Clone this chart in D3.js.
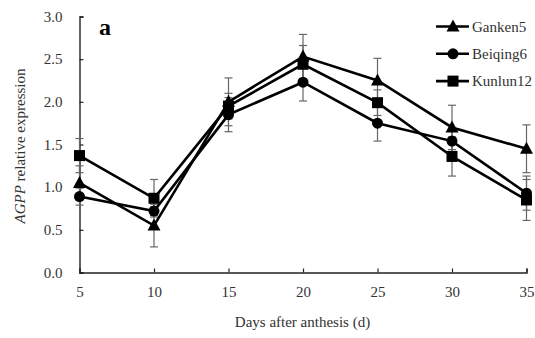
<!DOCTYPE html>
<html>
<head>
<meta charset="utf-8">
<script src="https://cdn.jsdelivr.net/npm/d3@7"></script>
<style>
  body { margin: 0; background: #fff; }
</style>
</head>
<body>
<div id="chart"></div>
<script>
var FONT = '"Liberation Serif", serif';

var days = [5, 10, 15, 20, 25, 30, 35];
var series_names = ['Ganken5', 'Beiqing6', 'Kunlun12'];
var series_shapes = ['triangle', 'circle', 'square'];

var ganken5 = [1.05, 0.55, 2.00, 2.53, 2.25, 1.70, 1.45];
var ganken5_err = [0.20, 0.25, 0.28, 0.26, 0.26, 0.26, 0.28];
var beiqing6 = [0.89, 0.72, 1.85, 2.23, 1.75, 1.54, 0.93];
var beiqing6_err = [0.10, 0.05, 0.20, 0.22, 0.21, 0.15, 0.20];
var kunlun12 = [1.37, 0.87, 1.95, 2.44, 1.99, 1.36, 0.85];
var kunlun12_err = [0.20, 0.22, 0.15, 0.22, 0.15, 0.23, 0.24];

var y_ticks = [0, 0.5, 1.0, 1.5, 2.0, 2.5, 3.0];

var values = [ganken5, beiqing6, kunlun12];
var errors = [ganken5_err, beiqing6_err, kunlun12_err];

var W = 535, H = 338;
var margin = { top: 16, left: 79, right: 9, bottom: 66 };
var width = W - margin.left - margin.right;
var height = H - margin.top - margin.bottom;

var sx = d3.scaleLinear().domain([5, 35]).range([0, width]);
var sy = d3.scaleLinear().domain([0, 3]).range([height, 0]);

var svg = d3.select('#chart').append('svg')
    .attr('width', W)
    .attr('height', H);

var g = svg.append('g')
    .attr('transform', 'translate(0.5,0.5) translate(' + margin.left + ',' + margin.top + ')');

// axes, ticks pointing inward
var ax = d3.axisBottom(sx).tickValues(days).tickSize(-4).tickPadding(14);
var ay = d3.axisLeft(sy).tickValues(y_ticks).tickSize(-4).tickPadding(17)
    .tickFormat(d3.format('.1f'));

var gx = g.append('g').attr('transform', 'translate(0,' + height + ')').call(ax);
var gy = g.append('g').call(ay);

[gx, gy].forEach(function(a) {
    a.attr('font-family', null).attr('font-size', null);
    a.select('.domain').attr('stroke', '#222').attr('stroke-width', 1.4);
    a.selectAll('.tick line').attr('stroke', '#222').attr('stroke-width', 1.2);
    a.selectAll('.tick text')
        .style('font-family', FONT)
        .style('font-size', '15px')
        .attr('fill', '#333');
});

// error bars
var cap = 4;
values.forEach(function(v, s) {
    var eg = g.append('g').attr('class', 'err');
    days.forEach(function(d, i) {
        var x = sx(d);
        var y0 = sy(v[i] - errors[s][i]);
        var y1 = sy(v[i] + errors[s][i]);
        eg.append('line').attr('x1', x).attr('x2', x).attr('y1', y0).attr('y2', y1);
        eg.append('line').attr('x1', x - cap).attr('x2', x + cap).attr('y1', y0).attr('y2', y0);
        eg.append('line').attr('x1', x - cap).attr('x2', x + cap).attr('y1', y1).attr('y2', y1);
    });
    eg.selectAll('line').attr('stroke', '#666').attr('stroke-width', 1.2);
});

function marker(sel, shape) {
    if (shape == 'triangle') {
        sel.append('path').attr('d', 'M0,-7L6.5,5L-6.5,5Z');
    } else if (shape == 'circle') {
        sel.append('circle').attr('r', 5.5);
    } else {
        sel.append('rect').attr('x', -5.5).attr('y', -5.5).attr('width', 11).attr('height', 11);
    }
    sel.selectAll('*').attr('fill', '#000');
}

var line = d3.line()
    .x(function(d, i) { return sx(days[i]); })
    .y(function(d) { return sy(d); });

values.forEach(function(v, s) {
    g.append('path')
        .datum(v)
        .attr('d', line)
        .attr('fill', 'none')
        .attr('stroke', '#000')
        .attr('stroke-width', 2.6);
    v.forEach(function(val, i) {
        var m = g.append('g')
            .attr('transform', 'translate(' + sx(days[i]) + ',' + sy(val) + ')');
        marker(m, series_shapes[s]);
    });
});

// legend
var legend = svg.append('g').attr('transform', 'translate(436, 26.5)');
series_names.forEach(function(name, i) {
    var r = legend.append('g').attr('transform', 'translate(0,' + (i * 27.3) + ')');
    r.append('line').attr('x1', 0).attr('x2', 33).attr('y1', 0).attr('y2', 0)
        .attr('stroke', '#000').attr('stroke-width', 2.6);
    var m = r.append('g').attr('transform', 'translate(17,0)');
    marker(m, series_shapes[i]);
    r.append('text').attr('x', 36).attr('y', 5)
        .style('font-family', FONT).style('font-size', '15px')
        .attr('fill', '#333')
        .text(name);
});

// panel letter
svg.append('text')
    .attr('x', 99).attr('y', 35)
    .style('font-family', FONT).style('font-size', '24px').style('font-weight', 'bold')
    .attr('fill', '#000')
    .text('a');

// axis titles
svg.append('text')
    .attr('x', margin.left + width / 2).attr('y', 327)
    .attr('text-anchor', 'middle')
    .style('font-family', FONT).style('font-size', '15px')
    .attr('fill', '#333')
    .text('Days after anthesis (d)');

var yl = svg.append('text')
    .attr('transform', 'translate(25,' + (margin.top + height / 2 + 2) + ') rotate(-90)')
    .attr('text-anchor', 'middle')
    .style('font-family', FONT).style('font-size', '15px')
    .attr('fill', '#333');
yl.append('tspan').style('font-style', 'italic').text('AGPP');
yl.append('tspan').text(' relative expression');
</script>
</body>
</html>
